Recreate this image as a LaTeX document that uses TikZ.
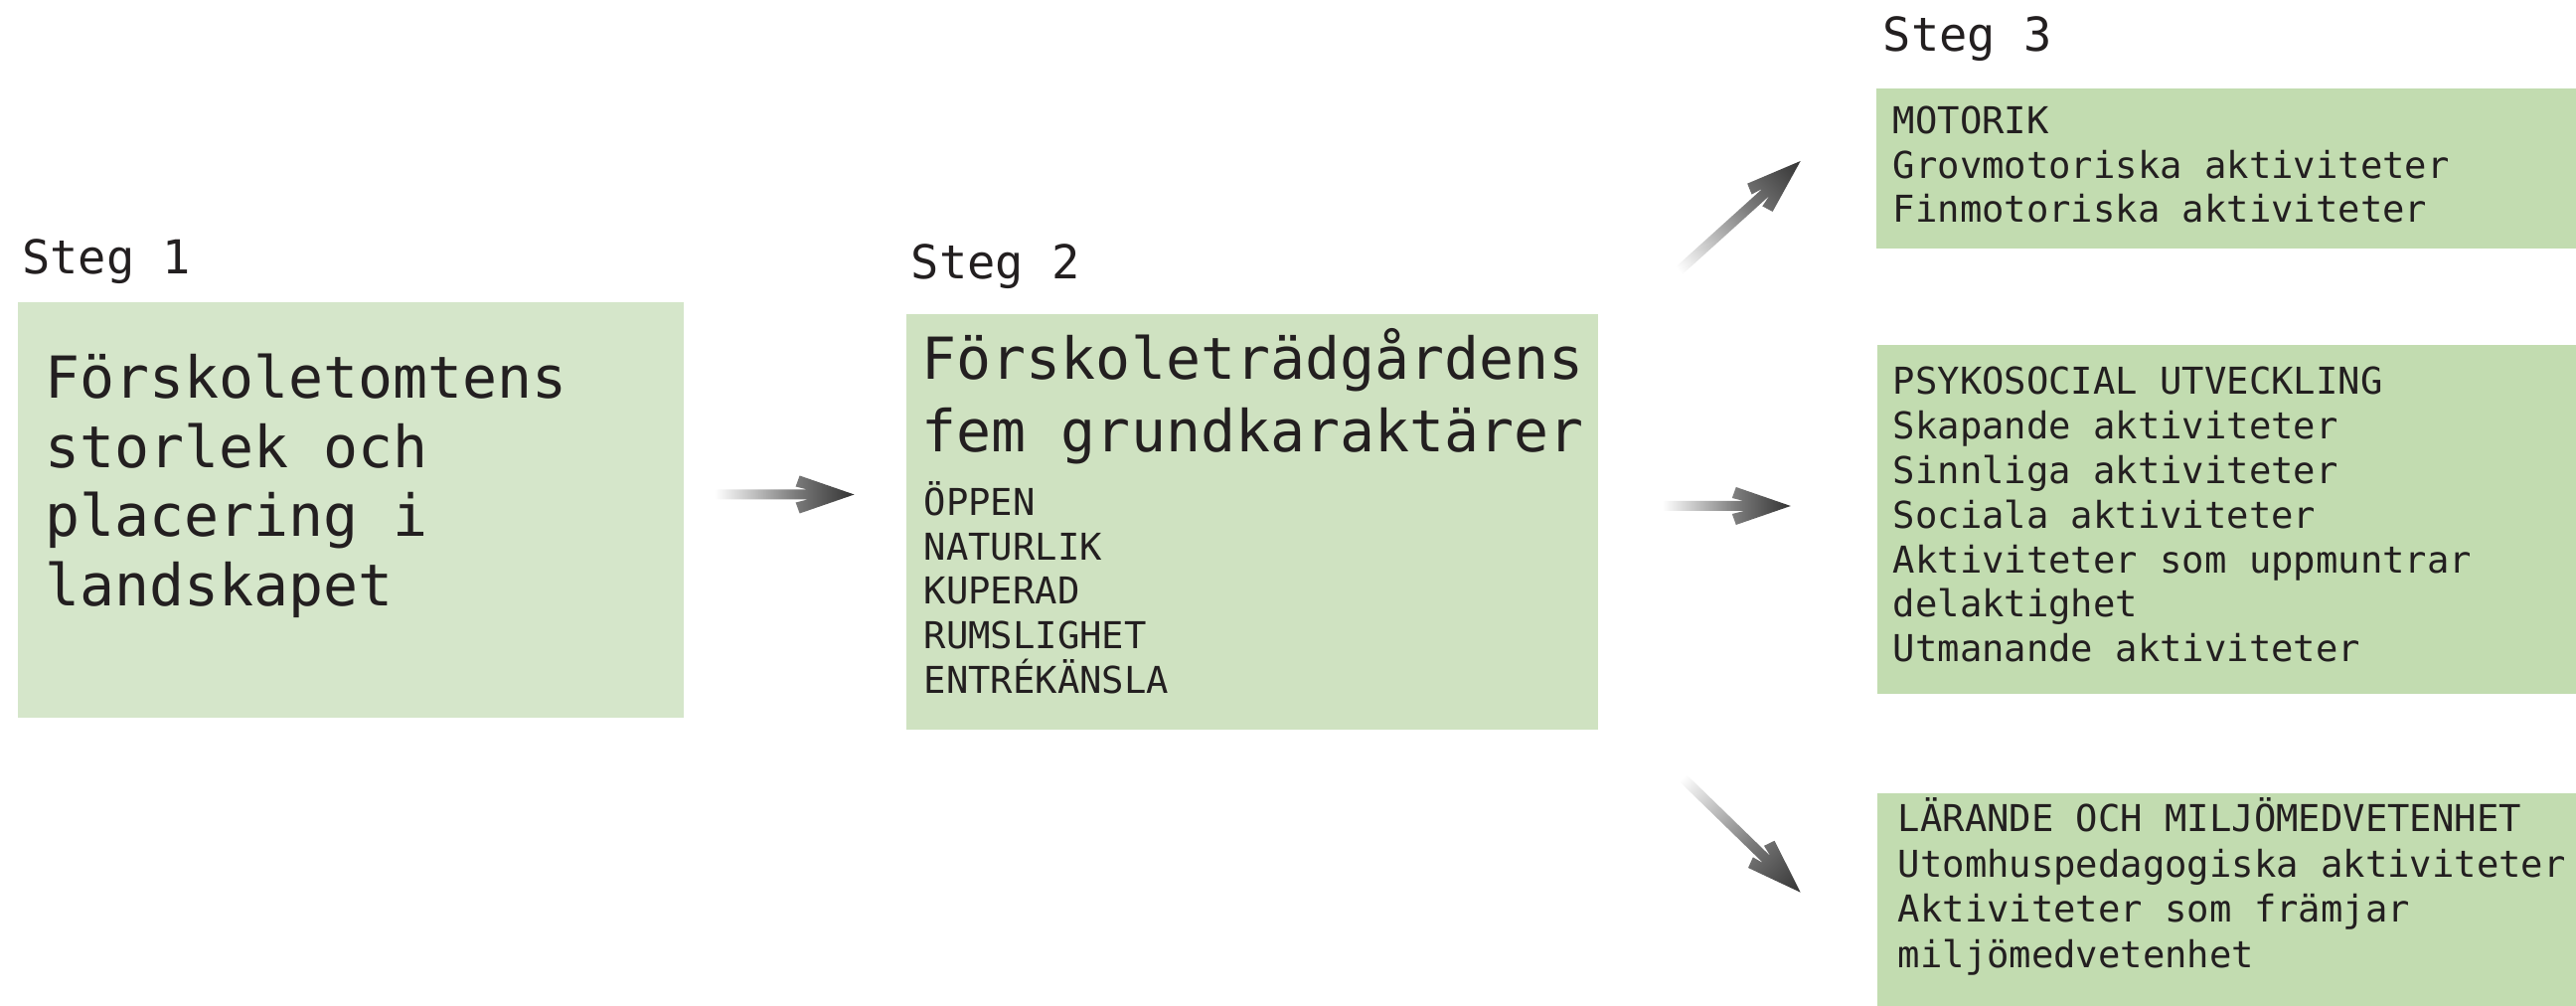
\documentclass[tikz,border=0pt]{standalone}
\usepackage{fontspec}
\newfontfamily\monofnt{DejaVu Sans Mono}
\definecolor{txt}{HTML}{231F20}
\definecolor{gA}{HTML}{D5E6CA}
\definecolor{gB}{HTML}{CFE2C1}
\definecolor{gC}{HTML}{C2DCB0}
\pgfdeclarehorizontalshading{arrowshade}{100bp}{color(0bp)=(white); color(25bp)=(white); color(54bp)=(black!52); color(75bp)=(black!80); color(100bp)=(black!80)}
\newcommand\gradarrow[3]{%
  \begin{scope}[transform canvas={shift={(#1)},rotate=#2}]
    \shade[shading=arrowshade] (0,-5) -- ({#3-47},-5) -- ({#3-59},-8) -- ({#3-55},-19) -- (#3,0)
      -- ({#3-55},19) -- ({#3-59},8) -- ({#3-47},5) -- (0,5) -- cycle;
  \end{scope}}
\tikzset{
  box/.style={anchor=north west, inner sep=0, outer sep=0, draw=none},
  bigtxt/.style={font=\monofnt\fontsize{14.55}{17}\selectfont, text=txt, anchor=base west, inner sep=0},
  smalltxt/.style={font=\monofnt\fontsize{9.3}{11}\selectfont, text=txt, anchor=base west, inner sep=0},
  stegtxt/.style={font=\monofnt\fontsize{11.75}{14}\selectfont, text=txt, anchor=base west, inner sep=0},
}
\begin{document}
\begin{tikzpicture}[x=0.25pt, y=-0.25pt]
\useasboundingbox (0,0) rectangle (2592,1012);
% boxes
\node[box, fill=gA, minimum width=670*0.25pt, minimum height=418*0.25pt] (b1) at (18,304) {};
\node[box, fill=gB, minimum width=696*0.25pt, minimum height=418*0.25pt] (b2) at (912,316) {};
\node[box, fill=gC, minimum width=704*0.25pt, minimum height=161*0.25pt] (b3a) at (1888,89) {};
\node[box, fill=gC, minimum width=703*0.25pt, minimum height=351*0.25pt] (b3b) at (1889,347) {};
\node[box, fill=gC, minimum width=703*0.25pt, minimum height=214*0.25pt] (b3c) at (1889,798) {};
% step labels
\node[stegtxt] (s1) at (21.5,276) {Steg 1};
\node[stegtxt] (s2) at (916,281) {Steg 2};
\node[stegtxt] (s3) at (1894,52) {Steg 3};
% box 1 text
\foreach \t [count=\i] in {Förskoletomtens, storlek och, placering i, landskapet}
  \node[bigtxt] (t1\i) at (44.6,{401+69.4*(\i-1)}) {\t};
% box 2 text
\foreach \t [count=\i] in {Förskoleträdgårdens, fem grundkaraktärer}
  \node[bigtxt] (t2\i) at (927,{382+72.6*(\i-1)}) {\t};
\foreach \t [count=\i] in {ÖPPEN, NATURLIK, KUPERAD, RUMSLIGHET, ENTRÉKÄNSLA}
  \node[smalltxt] (l2\i) at (929,{518.5+44.65*(\i-1)}) {\t};
% box 3a
\foreach \t [count=\i] in {MOTORIK, Grovmotoriska aktiviteter, Finmotoriska aktiviteter}
  \node[smalltxt] (l3a\i) at (1904,{135+44.4*(\i-1)}) {\t};
% box 3b
\foreach \t [count=\i] in {PSYKOSOCIAL UTVECKLING, Skapande aktiviteter, Sinnliga aktiviteter, Sociala aktiviteter, Aktiviteter som uppmuntrar, delaktighet, Utmanande aktiviteter}
  \node[smalltxt] (l3b\i) at (1904,{396.5+44.9*(\i-1)}) {\t};
% box 3c
\foreach \t [count=\i] in {LÄRANDE OCH MILJÖMEDVETENHET, Utomhuspedagogiska aktiviteter, Aktiviteter som främjar, miljömedvetenhet}
  \node[smalltxt] (l3c\i) at (1909,{836.5+45.6*(\i-1)}) {\t};
% arrows
\coordinate (a1s) at (719,497.5);   \coordinate (a1e) at (859.6,497.5);
\coordinate (a2s) at (1672.8,509);  \coordinate (a2e) at (1801.8,509);
\coordinate (a3s) at (1689,272.7);  \coordinate (a3e) at (1811.7,162);
\coordinate (a4s) at (1692.7,782);  \coordinate (a4e) at (1811.7,897.6);
\gradarrow{a1s}{0}{140.6}
\gradarrow{a2s}{0}{129}
\gradarrow{a3s}{42.06}{165.3}
\gradarrow{a4s}{-44.2}{166}
\end{tikzpicture}
\end{document}
